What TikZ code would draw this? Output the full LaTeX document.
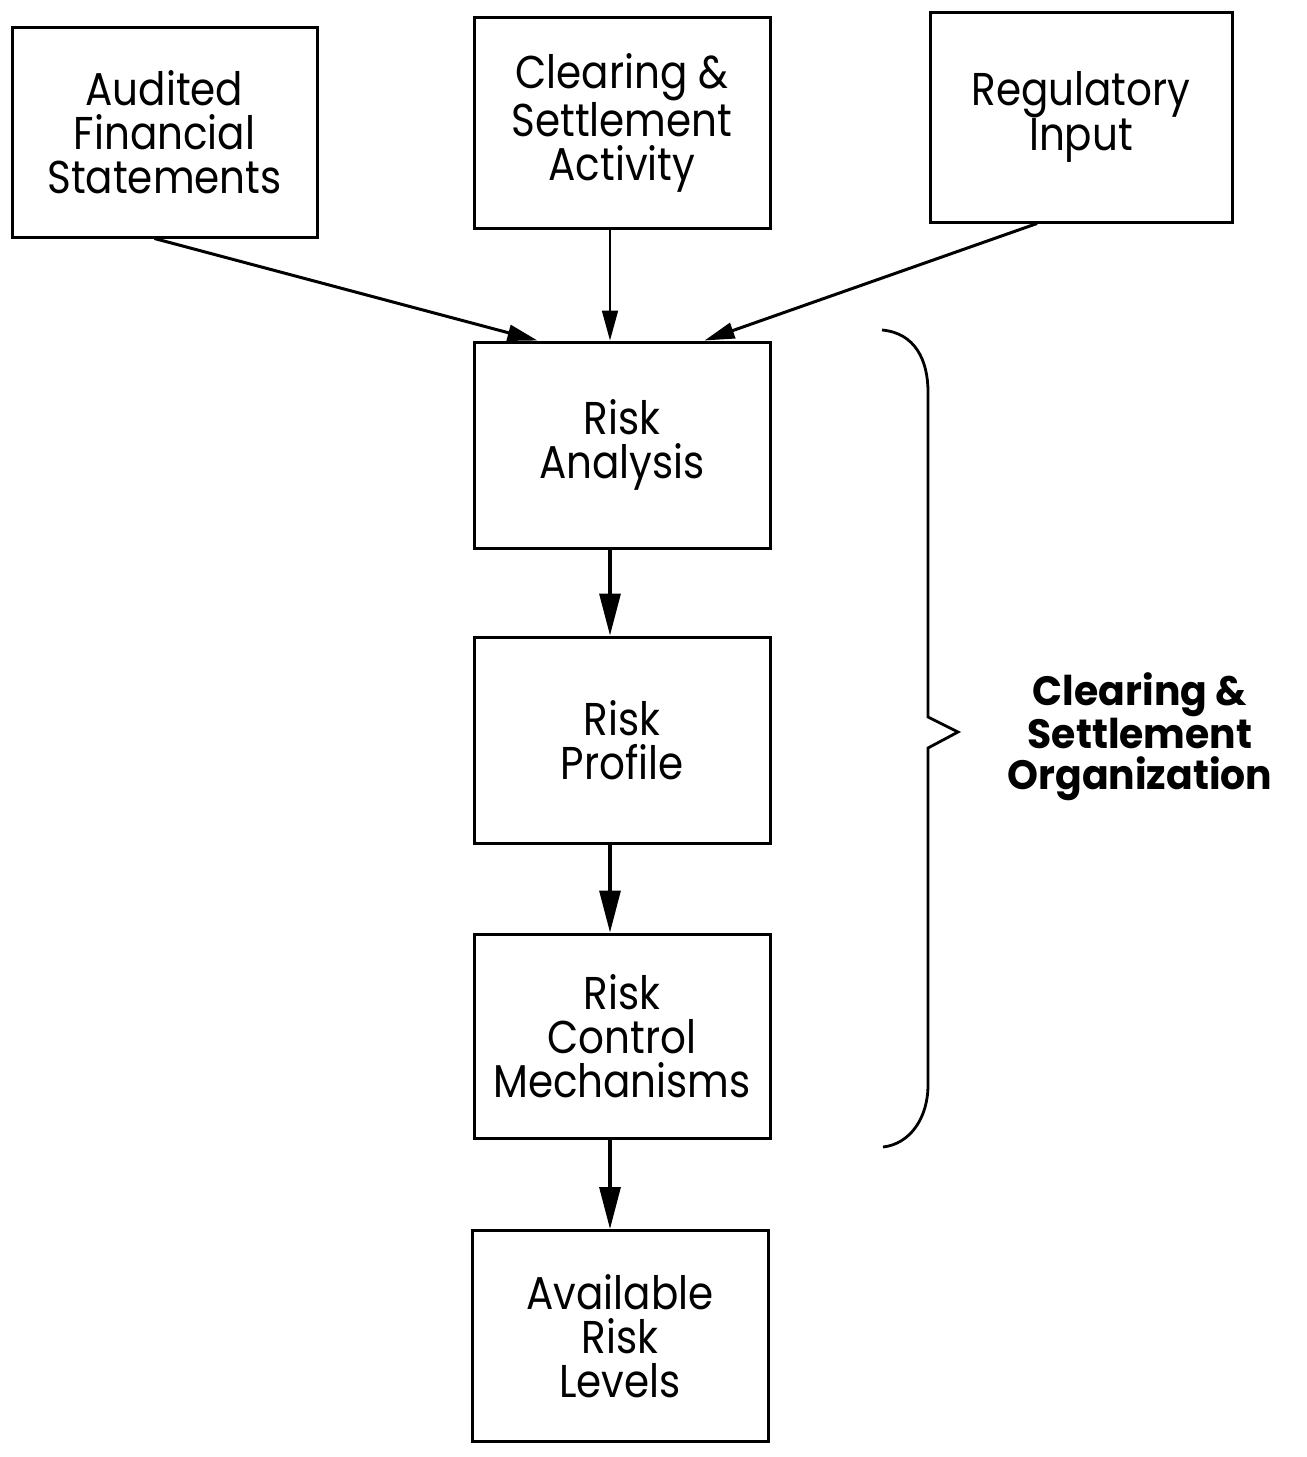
\documentclass[tikz,border=0pt]{standalone}
\usepackage{fontspec}
\usetikzlibrary{arrows.meta,calc}
\newfontfamily\gothic[FakeStretch=0.88]{Poppins}
\newfontfamily\gothicbold[FakeStretch=0.96]{Poppins Bold}
\begin{document}
\begin{tikzpicture}[x=1pt,y=-1pt,
  box/.style={draw=black, line width=3pt, minimum width=296pt, minimum height=206pt,
    align=center, inner sep=0pt, font=\gothic\fontsize{46}{44}\selectfont},
  feed/.style={line width=3pt, -{Triangle[length=30pt,width=16pt]}},
  flow/.style={line width=3.2pt, -{Triangle[length=42pt,width=21pt]}},
  brace/.style={line width=2.8pt, line join=miter}]
\useasboundingbox (0,0) rectangle (1307,1457);

% input boxes along the top
\node[box, minimum width=305pt, minimum height=210pt] (aud) at (164.5,132) {Audited\\Financial\\Statements};
\node[box, minimum height=211pt] (csa) at (622,123) {Clearing \&\\Settlement\\Activity};
\node[box, minimum width=302pt, minimum height=210pt] (reg) at (1081,117) {Regulatory\\Input};

% processing chain
\node[box] (ra) at (622,445) {Risk\\Analysis};
\node[box] (rp) at (622,740) {Risk\\Profile};
\node[box, minimum height=204pt] (rc) at (622,1036) {Risk\\Control\\Mechanisms};
\node[box, minimum height=211pt] (av) at (620,1336) {Available\\Risk\\Levels};

% inputs feeding the analysis
\draw[feed] ([xshift=-10pt]aud.south) -- ([xshift=65pt]ra.north west);
\draw[feed, line width=1.8pt] ([xshift=-12pt]csa.south) -- ([xshift=-12pt]ra.north);
\draw[feed] ([xshift=-44pt]reg.south) -- ([xshift=-67pt]ra.north east);

% downward flow
\draw[flow] ([xshift=-12pt]ra.south) -- ([xshift=-12pt]rp.north);
\draw[flow] ([xshift=-12pt]rp.south) -- ([xshift=-12pt]rc.north);
\draw[flow] ([xshift=-12pt]rc.south) -- ([xshift=-10pt]av.north);

% brace grouping the organisation's own steps
\coordinate (bt) at (882,330);
\coordinate (bb) at (883,1147);
\coordinate (tip) at (958,732);
\draw[brace] (bt) .. controls (915,333) and (928,360) .. (928,392)
  -- (928,717) -- (tip) -- (928,748) -- (928,1085)
  .. controls (928,1118) and (910,1144) .. (bb);

\node[align=center, inner sep=0pt, font=\gothicbold\fontsize{41}{41}\selectfont] (org) at (1140,737)
  {Clearing \&\\Settlement\\Organization};
\end{tikzpicture}
\end{document}
